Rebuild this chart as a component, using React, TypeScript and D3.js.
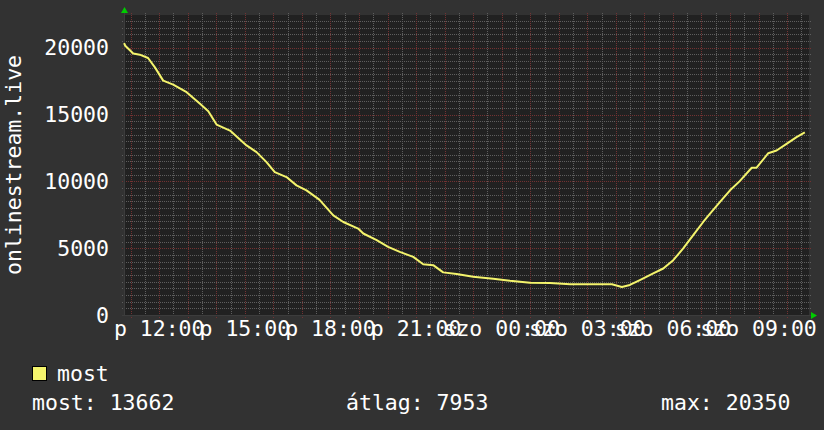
import { useMemo } from 'react';
import * as d3 from 'd3';

// rrdtool-style daily graph, 24h ending Saturday ~10:46
const startTime = new Date(2024, 0, 5, 10, 46); // Friday
const endTime = new Date(2024, 0, 6, 10, 46);   // Saturday

// hours since Friday 00:00 and viewer counts
const hours = [
  10.77, 10.81, 11.09, 11.32, 11.61, 11.85, 12.14, 12.49, 12.96, 13.43, 13.72, 14.01,
  14.48, 15.06, 15.41, 15.76, 16.05, 16.46, 16.81, 17.16, 17.61, 18.10, 18.45, 18.97,
  19.15, 19.62, 20.02, 20.43, 20.90, 21.25, 21.60, 21.95, 22.42, 23.00, 23.70, 24.29,
  24.99, 25.70, 26.40, 27.09, 27.86, 28.21, 28.49, 28.84, 29.31, 29.66, 30.01, 30.36,
  30.71, 31.06, 31.30, 31.65, 32.00, 32.34, 32.76, 32.93, 33.34, 33.63, 33.98, 34.33,
  34.62,
];
const viewers = [
  20350, 20150, 19575, 19480, 19230, 18530, 17540, 17240, 16670, 15800, 15250, 14250,
  13800, 12690, 12190, 11440, 10690, 10320, 9700, 9330, 8630, 7460, 6960, 6470,
  6100, 5600, 5100, 4720, 4350, 3800, 3730, 3190, 3060, 2860, 2710, 2560,
  2420, 2390, 2310, 2310, 2300, 2090, 2250, 2610, 3110, 3480, 4100, 4980,
  5970, 6960, 7590, 8460, 9330, 10020, 11020, 11020, 12110, 12310, 12810, 13310,
  13662,
];

const yTicks = [0, 5000, 10000, 15000, 20000];
const dayAbbr = ['v', 'h', 'k', 'sze', 'cs', 'p', 'szo'];
const yTitle = 'onlinestream.live';
const seriesName = 'most';
const legendStats = [
  { label: 'most', value: '13662' },
  { label: 'átlag', value: '7953' },
  { label: 'max', value: '20350' },
];

const W = 824;
const H = 430;
const FONT = '"DejaVu Sans Mono", monospace';
const FS = 21.5;

export default function App() {
  const left = 124, right = 809, top = 15, bottom = 315;

  const x = useMemo(() => d3.scaleTime().domain([startTime, endTime]).range([left, right]), []);
  const y = useMemo(() => d3.scaleLinear().domain([0, 22450]).range([bottom, top]), []);

  const data = hours.map((h, i) => ({
    t: new Date(startTime.getFullYear(), startTime.getMonth(), startTime.getDate(), 0, 0, 0, h * 3600000),
    v: viewers[i],
  }));

  const line = d3.line<{ t: Date; v: number }>()
    .x(d => x(d.t))
    .y(d => y(d.v));

  const minorY = d3.range(500, 22450, 500).filter(v => v % 5000 !== 0);
  const majorY = d3.range(5000, 22450, 5000);
  const majorX = d3.timeHour.range(startTime, endTime);
  const minorX = d3.timeMinute.every(30)!.range(startTime, endTime).filter(d => d.getMinutes() !== 0);
  const labelX = d3.timeHour.every(3)!.range(startTime, endTime);
  const fmt = d3.timeFormat('%H:%M');

  const grayGrid = '#5e5e5e';
  const redGrid = '#733232';
  const px = (v: number) => Math.round(v) + 0.5;

  return (
    <svg width={W} height={H} style={{ position: 'absolute', left: 0, top: 0, display: 'block' }}>
      <rect width={W} height={H} fill="#323232" />
      <rect x={left} y={top} width={right - left} height={bottom - top} fill="#212121" />

      {/* minor grid */}
      <g stroke={grayGrid} strokeWidth={1} strokeDasharray="1,1" shapeRendering="crispEdges">
        {minorY.map(v => (
          <line key={'my' + v} x1={left - 2} x2={right + 2} y1={px(y(v))} y2={px(y(v))} />
        ))}
        {minorX.map(d => (
          <line key={'mx' + d.getTime()} x1={px(x(d))} x2={px(x(d))} y1={top - 2} y2={bottom + 2} />
        ))}
      </g>
      {/* major grid */}
      <g stroke={redGrid} strokeWidth={1} strokeDasharray="1,1" shapeRendering="crispEdges">
        {majorY.map(v => (
          <line key={'My' + v} x1={left - 2} x2={right + 2} y1={px(y(v))} y2={px(y(v))} />
        ))}
        {majorX.map(d => (
          <line key={'Mx' + d.getTime()} x1={px(x(d))} x2={px(x(d))} y1={top - 2} y2={bottom + 3} />
        ))}
      </g>

      {/* axes */}
      <line x1={left + 0.5} x2={left + 0.5} y1={top - 2} y2={bottom + 1} stroke="#3c3c3c" shapeRendering="crispEdges" />
      <line x1={left - 2} x2={right + 3} y1={bottom + 0.5} y2={bottom + 0.5} stroke="#3c3c3c" shapeRendering="crispEdges" />
      <polygon points={`${left - 3},${top - 2} ${left + 4},${top - 2} ${left + 0.5},${top - 8}`} fill="#00cc00" />
      <polygon points={`${right + 2},${bottom - 3} ${right + 2},${bottom + 4} ${right + 8},${bottom + 0.5}`} fill="#00cc00" />

      {/* data */}
      <path d={line(data) ?? ''} fill="none" stroke="#f4f46c" strokeWidth={2} strokeLinejoin="round" />

      {/* y labels */}
      <g fontFamily={FONT} fontSize={FS} fill="#ffffff" textAnchor="end">
        {yTicks.map(v => (
          <text key={v} x={109} y={y(v) + FS * 0.36}>{v}</text>
        ))}
      </g>
      <text
        transform={`translate(21,${(top + bottom) / 2}) rotate(-90)`}
        textAnchor="middle"
        fontFamily={FONT}
        fontSize={FS}
        fill="#ffffff"
      >
        {yTitle}
      </text>

      {/* x labels (they overlap in the original too) */}
      <g fontFamily={FONT} fontSize={FS} fill="#ffffff" textAnchor="middle">
        {labelX.map(d => (
          <text key={d.getTime()} x={x(d)} y={336} style={{ whiteSpace: 'pre' }}>
            {`${dayAbbr[d.getDay()]} ${fmt(d)}`}
          </text>
        ))}
      </g>

      {/* legend */}
      <rect x={32.5} y={366.5} width={14} height={14} fill="#f4f46c" stroke="#000000" />
      <text x={57} y={381} fontFamily={FONT} fontSize={FS} fill="#ffffff">{seriesName}</text>
      <g fontFamily={FONT} fontSize={FS} fill="#ffffff">
        {legendStats.map((s, i) => (
          <text key={s.label} x={[32, 346, 661][i]} y={410}>{`${s.label}: ${s.value}`}</text>
        ))}
      </g>
    </svg>
  );
}
